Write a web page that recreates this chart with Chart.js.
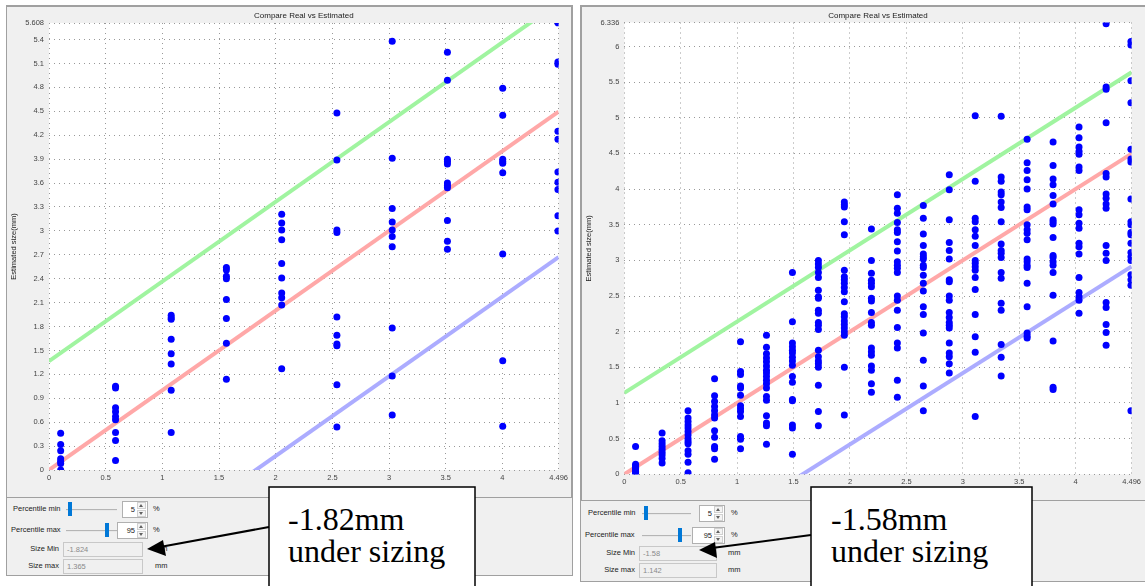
<!DOCTYPE html>
<html>
<head>
<meta charset="utf-8">
<script src="https://cdn.jsdelivr.net/npm/chart.js@4.4.0/dist/chart.umd.min.js"></script>
<style>
body{margin:0;width:1145px;height:586px;background:#fff;position:relative;overflow:hidden;font-family:"Liberation Sans",Arial,sans-serif;}
.win{position:absolute;background:#f0f0f0;border:1px solid #a0a0a0;box-sizing:border-box;}
.chartbox{position:absolute;border:1px solid #a0a0a0;box-sizing:border-box;background:#f0f0f0;}
canvas{display:block;background:#f0f0f0;}
.lbl{position:absolute;font-size:7.5px;color:#222;white-space:nowrap;line-height:10px;}
.r{text-align:right;width:60px;}
.track{position:absolute;height:1px;background:#b5b5b5;border-bottom:1px solid #e8e8e8;}
.handle{position:absolute;width:4px;height:14px;background:#0078d7;}
.spin{position:absolute;height:17px;background:#fff;border:1px solid #b0b0b0;box-sizing:border-box;font-size:7.5px;text-align:right;line-height:15px;padding-right:12px;color:#222;}
.ar{position:absolute;right:1px;width:9px;height:7px;background:#f4f4f4;border:1px solid #d0d0d0;box-sizing:border-box;}
.up{top:0px}.dn{bottom:0px}
.ar::after{content:"";position:absolute;left:1px;top:1px;border-left:2.5px solid transparent;border-right:2.5px solid transparent;}
.up::after{border-bottom:3px solid #606060;}
.dn::after{border-top:3px solid #606060;}
.field{position:absolute;height:15px;border:1px solid #c8c8c8;background:#f0f0f0;color:#8a8a8a;font-size:7.5px;line-height:13px;padding-left:3px;box-sizing:border-box;}
svg{position:absolute;left:0;top:0;}
</style>
</head>
<body>

<!-- left window -->
<div class="win" style="left:6px;top:5px;width:567px;height:571px;"></div>
<div class="chartbox" style="left:6px;top:6px;width:566px;height:492px;">
  <canvas id="leftChart" width="564" height="490"></canvas>
</div>
<div class="lbl" style="left:13px;top:504px;">Percentile min</div>
<div class="track" style="left:66px;top:509px;width:51px;"></div>
<div class="handle" style="left:68px;top:502px;"></div>
<div class="spin" style="left:122px;top:501px;width:26px;">5<div class="ar up"></div><div class="ar dn"></div></div>
<div class="lbl" style="left:153px;top:504px;">%</div>
<div class="lbl" style="left:11px;top:525px;">Percentile max</div>
<div class="track" style="left:66px;top:530px;width:51px;"></div>
<div class="handle" style="left:105px;top:523px;"></div>
<div class="spin" style="left:117px;top:522px;width:31px;">95<div class="ar up"></div><div class="ar dn"></div></div>
<div class="lbl" style="left:153px;top:525px;">%</div>
<div class="lbl r" style="left:-1px;top:544px;">Size Min</div>
<div class="field" style="left:63px;top:542px;width:80px;">-1.824</div>
<div class="lbl" style="left:155px;top:544px;">mm</div>
<div class="lbl r" style="left:-1px;top:561px;">Size max</div>
<div class="field" style="left:63px;top:559px;width:80px;">1.365</div>
<div class="lbl" style="left:155px;top:561px;">mm</div>

<!-- right window -->
<div class="win" style="left:580px;top:5px;width:567px;height:577px;"></div>
<div class="chartbox" style="left:581px;top:6px;width:566px;height:495px;">
  <canvas id="rightChart" width="562" height="493"></canvas>
</div>
<div class="lbl" style="left:588px;top:508px;">Percentile min</div>
<div class="track" style="left:642px;top:513px;width:49px;"></div>
<div class="handle" style="left:644px;top:506px;"></div>
<div class="spin" style="left:699px;top:505px;width:26px;">5<div class="ar up"></div><div class="ar dn"></div></div>
<div class="lbl" style="left:731px;top:508px;">%</div>
<div class="lbl" style="left:585px;top:530px;">Percentile max</div>
<div class="track" style="left:642px;top:535px;width:49px;"></div>
<div class="handle" style="left:678px;top:528px;"></div>
<div class="spin" style="left:692px;top:527px;width:33px;">95<div class="ar up"></div><div class="ar dn"></div></div>
<div class="lbl" style="left:731px;top:530px;">%</div>
<div class="lbl r" style="left:575px;top:548px;">Size Min</div>
<div class="field" style="left:639px;top:546px;width:78px;">-1.58</div>
<div class="lbl" style="left:728px;top:548px;">mm</div>
<div class="lbl r" style="left:575px;top:565px;">Size max</div>
<div class="field" style="left:639px;top:563px;width:78px;">1.142</div>
<div class="lbl" style="left:728px;top:565px;">mm</div>

<!-- callouts -->
<svg width="1145" height="586" viewBox="0 0 1145 586">
  <rect x="269" y="487" width="206" height="110" fill="#fff" stroke="#000" stroke-width="1.5"/>
  <text x="288" y="530" font-family="Liberation Serif, Times New Roman, serif" font-size="32">-1.82mm</text>
  <text x="288" y="562" font-family="Liberation Serif, Times New Roman, serif" font-size="32">under sizing</text>
  <line x1="269" y1="527" x2="160" y2="547" stroke="#000" stroke-width="2"/>
  <polygon points="147,549 163,540 166,556" fill="#000"/>

  <rect x="811" y="487" width="221" height="110" fill="#fff" stroke="#000" stroke-width="1.5"/>
  <text x="831" y="530" font-family="Liberation Serif, Times New Roman, serif" font-size="32">-1.58mm</text>
  <text x="831" y="562" font-family="Liberation Serif, Times New Roman, serif" font-size="32">under sizing</text>
  <line x1="811" y1="535" x2="712" y2="548" stroke="#000" stroke-width="2"/>
  <polygon points="699,550 715,542 717,558" fill="#000"/>
</svg>

<script>
// ticks
const xTicks = [0, 0.5, 1, 1.5, 2, 2.5, 3, 3.5, 4, 4.496];
const leftYTicks = [0, 0.3, 0.6, 0.9, 1.2, 1.5, 1.8, 2.1, 2.4, 2.7, 3, 3.3, 3.6, 3.9, 4.2, 4.5, 4.8, 5.1, 5.4, 5.608];
const rightYTicks = [0, 0.5, 1, 1.5, 2, 2.5, 3, 3.5, 4, 4.5, 5, 5.5, 6, 6.336];

// left run: real sizes (columns) and estimated sizes per column
const leftReal = [0.103, 0.587, 1.078, 1.565, 2.053, 2.54, 3.028, 3.515, 4.003, 4.49];
const leftEst = [
  [0.46, 0.32, 0.24, 0.14, 0.11, 0.08, 0.0],
  [1.05, 1.03, 0.78, 0.73, 0.67, 0.63, 0.47, 0.37, 0.12],
  [1.94, 1.91, 1.89, 1.64, 1.46, 1.33, 1.00, 0.47],
  [2.54, 2.51, 2.43, 2.40, 2.14, 1.90, 1.59, 1.14],
  [3.21, 3.10, 3.01, 2.89, 2.59, 2.41, 2.22, 2.16, 2.07, 1.27],
  [4.48, 3.89, 3.01, 2.98, 1.92, 1.69, 1.58, 1.56, 1.07, 0.54],
  [5.38, 3.91, 3.28, 3.11, 3.01, 2.93, 2.80, 1.78, 1.18, 0.69],
  [5.24, 4.89, 3.90, 3.87, 3.84, 3.60, 3.57, 3.54, 3.13, 2.87, 2.77],
  [4.79, 4.45, 3.90, 3.87, 3.85, 3.73, 2.71, 1.37, 0.55],
  [5.61, 5.12, 5.09, 4.25, 4.15, 3.74, 3.61, 3.52, 3.19, 3.00]
];
const leftSizeMin = -1.824;
const leftSizeMax = 1.365;

// right run
const rightReal = [0.10, 0.335, 0.565, 0.80, 1.03, 1.26, 1.49, 1.72, 1.95, 2.19, 2.42, 2.65, 2.88, 3.11, 3.34, 3.57, 3.80, 4.03, 4.27, 4.49];
const rightEst = [
  [0.39, 0.14, 0.12, 0.10, 0.08, 0.06, 0.04, 0.02, 0.0],
  [0.58, 0.47, 0.43, 0.39, 0.35, 0.31, 0.27, 0.22, 0.16],
  [0.89, 0.79, 0.74, 0.69, 0.65, 0.60, 0.55, 0.50, 0.46, 0.43, 0.33, 0.28, 0.17, 0.02],
  [1.34, 1.10, 1.02, 0.95, 0.89, 0.83, 0.79, 0.61, 0.52, 0.39, 0.36, 0.21],
  [1.86, 1.44, 1.40, 1.24, 1.21, 1.11, 0.96, 0.92, 0.88, 0.81, 0.53, 0.49, 0.36],
  [1.95, 1.78, 1.69, 1.63, 1.58, 1.52, 1.46, 1.42, 1.37, 1.32, 1.27, 1.21, 1.09, 1.04, 0.82, 0.72, 0.68, 0.42],
  [2.83, 2.14, 1.84, 1.79, 1.74, 1.70, 1.64, 1.59, 1.53, 1.37, 1.29, 1.05, 1.03, 0.69, 0.65, 0.28],
  [3.00, 2.95, 2.90, 2.83, 2.76, 2.58, 2.49, 2.47, 2.30, 2.26, 2.13, 2.09, 2.03, 1.74, 1.65, 1.59, 1.55, 1.50, 1.25, 0.88, 0.68],
  [3.82, 3.78, 3.75, 3.54, 3.36, 2.86, 2.77, 2.73, 2.68, 2.62, 2.56, 2.42, 2.25, 2.21, 2.15, 2.10, 2.05, 2.00, 1.95, 1.50, 0.83],
  [3.44, 3.00, 2.82, 2.72, 2.68, 2.63, 2.47, 2.43, 2.27, 2.13, 2.09, 1.77, 1.72, 1.67, 1.52, 1.46, 1.27, 1.15],
  [3.92, 3.73, 3.66, 3.53, 3.43, 3.39, 3.26, 3.13, 2.98, 2.93, 2.89, 2.83, 2.50, 2.44, 2.30, 2.06, 1.84, 1.77, 1.32, 1.08],
  [3.77, 3.59, 3.37, 3.21, 3.09, 3.05, 3.02, 2.93, 2.90, 2.79, 2.68, 2.57, 2.35, 2.24, 1.98, 1.60, 1.24, 0.89],
  [4.20, 3.99, 3.57, 3.25, 3.14, 3.02, 2.73, 2.70, 2.50, 2.44, 2.27, 2.20, 2.13, 2.09, 2.05, 1.84, 1.70, 1.65, 1.55, 1.42],
  [5.03, 4.11, 3.59, 3.54, 3.43, 3.34, 3.21, 3.00, 2.96, 2.91, 2.86, 2.76, 2.59, 2.24, 1.93, 1.71, 0.81],
  [5.02, 4.17, 4.11, 3.96, 3.92, 3.82, 3.74, 3.54, 3.23, 3.14, 3.10, 3.04, 2.83, 2.75, 2.40, 2.30, 1.82, 1.64, 1.38],
  [4.70, 4.37, 4.26, 4.13, 4.00, 3.75, 3.71, 3.50, 3.43, 3.38, 3.29, 3.02, 2.98, 2.93, 2.90, 2.68, 2.35, 1.98, 1.94, 1.91],
  [4.66, 4.33, 4.14, 4.06, 3.91, 3.79, 3.57, 3.54, 3.51, 3.32, 3.07, 3.04, 2.98, 2.93, 2.83, 2.51, 1.87, 1.22, 1.19],
  [4.87, 4.72, 4.59, 4.53, 4.49, 4.31, 4.26, 3.71, 3.64, 3.52, 3.45, 3.24, 3.19, 3.09, 2.76, 2.55, 2.49, 2.44, 2.26],
  [6.32, 5.43, 5.40, 4.93, 4.22, 4.17, 3.93, 3.87, 3.79, 3.73, 3.21, 3.10, 3.00, 2.41, 2.34, 2.10, 1.99, 1.81],
  [6.07, 6.02, 5.52, 5.21, 4.56, 4.42, 4.38, 3.86, 3.54, 3.50, 3.39, 3.36, 3.24, 3.11, 3.05, 3.00, 2.80, 2.73, 2.65, 0.89]
];
const rightSizeMin = -1.58;
const rightSizeMax = 1.142;

Chart.defaults.font.family = '"Liberation Sans", Arial, sans-serif';

const plotBg = {
  id: 'plotBg',
  beforeDraw(chart) {
    const a = chart.chartArea, ctx = chart.ctx;
    ctx.save();
    ctx.fillStyle = '#ffffff';
    ctx.fillRect(a.left, a.top, a.right - a.left, a.bottom - a.top);
    ctx.restore();
  }
};

function refLine(xMax, off, color) {
  return {
    data: [{x: 0, y: off}, {x: xMax, y: xMax + off}],
    showLine: true, borderColor: color, borderWidth: 4,
    pointRadius: 0, clip: 0, order: 1
  };
}

function makeChart(id, real, est, yTicks, sizeMin, sizeMax, yAxisW, xAxisH, titleTop, padRight) {
  const xMax = xTicks[xTicks.length - 1];
  const yMax = yTicks[yTicks.length - 1];
  const pts = [];
  real.forEach((x, i) => est[i].forEach(y => pts.push({x: x, y: y})));
  const tickFont = {size: 7.5};
  return new Chart(document.getElementById(id), {
    type: 'scatter',
    data: {
      datasets: [
        {data: pts, backgroundColor: '#0000ff', borderWidth: 0, pointRadius: 3.5, clip: 0, order: 0},
        refLine(xMax, 0, 'rgb(255,168,168)'),
        refLine(xMax, sizeMax, 'rgb(160,244,160)'),
        refLine(xMax, sizeMin, 'rgb(172,172,255)')
      ]
    },
    options: {
      responsive: false,
      animation: false,
      layout: {padding: {right: padRight}},
      plugins: {
        legend: {display: false},
        tooltip: {enabled: false},
        title: {
          display: true, text: 'Compare Real vs Estimated', fullSize: false,
          font: {size: 8, weight: 'normal'}, color: '#222',
          padding: {top: titleTop, bottom: 2.4}
        }
      },
      scales: {
        x: {
          type: 'linear', min: 0, max: xMax,
          afterBuildTicks: s => { s.ticks = xTicks.map(v => ({value: v})); },
          afterFit: s => { s.height = xAxisH; },
          ticks: {autoSkip: false, maxRotation: 0, padding: 3, font: tickFont, color: '#444', callback: v => String(v)},
          grid: {color: '#999', drawTicks: false},
          border: {display: false, dash: [1, 4]},
          title: {display: true, text: 'Real size(mm)', font: tickFont, color: '#222', padding: {top: 0, bottom: 1}}
        },
        y: {
          type: 'linear', min: 0, max: yMax,
          afterBuildTicks: s => { s.ticks = yTicks.map(v => ({value: v})); },
          afterFit: s => { s.width = yAxisW; },
          ticks: {autoSkip: false, padding: 5, font: tickFont, color: '#444', callback: v => String(v)},
          grid: {color: '#999', drawTicks: false},
          border: {display: false, dash: [1, 4]},
          title: {display: true, text: 'Estimated size(mm)', font: tickFont, color: '#222', padding: {top: 2.5, bottom: 0}}
        }
      }
    },
    plugins: [plotBg]
  });
}

makeChart('leftChart', leftReal, leftEst, leftYTicks, leftSizeMin, leftSizeMax, 42, 27, 4, 12);
makeChart('rightChart', rightReal, rightEst, rightYTicks, rightSizeMin, rightSizeMax, 42.3, 25.7, 3.5, 9.5);
</script>
</body>
</html>
